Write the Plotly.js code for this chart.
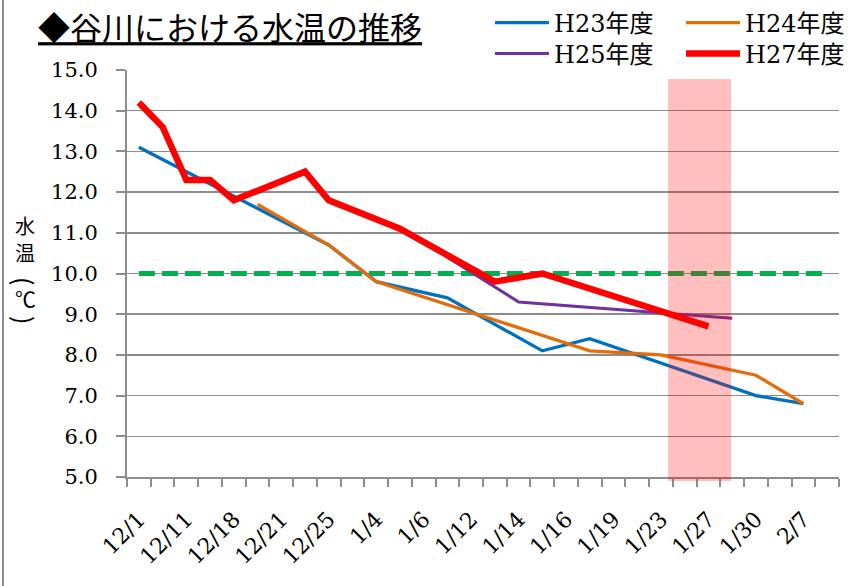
<!DOCTYPE html>
<html><head><meta charset="utf-8">
<script src="https://cdn.plot.ly/plotly-3.0.1.min.js"></script>
<style>html,body{margin:0;padding:0;background:#fff}</style>
</head><body>
<div id="chart" style="width:848px;height:586px"></div>
<script>
// 30 date categories; only every other one is labelled on the axis
const nCat = 30;
const dateLabels = ['12/1','12/11','12/18','12/21','12/25','1/4','1/6','1/12','1/14','1/16','1/19','1/23','1/27','1/30','2/7'];
const labelIdx = [0,2,4,6,8,10,12,14,16,18,20,22,24,26,28];

// water temperature (°C) per category, null = not measured
const h23 = [13.1,null,null,null,null,null,null,null,10.7,null,9.8,null,null,9.4,null,null,null,8.1,null,8.4,null,null,null,null,null,null,7.0,null,6.8,null];
const h24 = [null,null,null,null,null,11.7,null,null,10.7,null,9.8,null,null,null,null,null,null,null,null,8.1,null,null,8.0,null,null,null,7.5,null,6.8,null];
const h25 = [null,null,null,null,null,null,null,null,null,null,null,null,null,10.4,null,null,9.3,null,null,null,null,null,null,null,null,8.9,null,null,null,null];
const h27 = [14.2,13.6,12.3,12.3,11.8,null,null,12.5,11.8,null,null,11.1,null,null,null,9.8,null,10.0,null,null,null,null,null,null,8.7,null,null,null,null,null];
const guide = [10,10,10,10,10,10,10,10,10,10,10,10,10,10,10,10,10,10,10,10,10,10,10,10,10,10,10,10,10,10];

// highlighted period (category positions)
const bandStart = 22.3, bandEnd = 24.95;

const xs = Array.from({length: nCat}, (_, i) => i);
const boundaries = Array.from({length: nCat + 1}, (_, i) => i - 0.5);

const serif = "DejaVu Serif, Noto Sans CJK JP, serif";
const cjk = "Noto Sans CJK JP, sans-serif";
const grid = '#8c8c8c';

const traces = [
  {x: xs, y: guide, xaxis: 'x', yaxis: 'y', mode: 'lines', showlegend: false, hoverinfo: 'skip',
   line: {color: '#00B050', width: 5, dash: '16px,7px'}},
  {x: xs, y: h23, xaxis: 'x2', yaxis: 'y', mode: 'lines', name: 'H23年度', connectgaps: true,
   line: {color: '#0070C0', width: 3.3}, legend: 'legend'},
  {x: xs, y: h24, xaxis: 'x2', yaxis: 'y', mode: 'lines', name: 'H24年度', connectgaps: true,
   line: {color: '#E46C0A', width: 3.3}, legend: 'legend'},
  {x: xs, y: h25, xaxis: 'x2', yaxis: 'y', mode: 'lines', name: 'H25年度', connectgaps: true,
   line: {color: '#7030A0', width: 3}, legend: 'legend2'},
  {x: xs, y: h27, xaxis: 'x2', yaxis: 'y', mode: 'lines', name: 'H27年度', connectgaps: true,
   line: {color: '#FF0000', width: 6.5}, legend: 'legend2'}
];

const legendCommon = {
  orientation: 'h', xanchor: 'left', yanchor: 'middle', bgcolor: 'rgba(0,0,0,0)',
  font: {family: serif, size: 24, color: '#000'}, entrywidth: 122, entrywidthmode: 'pixels',
  itemwidth: 54, tracegroupgap: 0
};

const ytitleY = (py) => (477 - py) / 407;
const ytitleX = (25 - 127) / 712;

const layout = {
  width: 848, height: 586,
  margin: {l: 127, r: 9, t: 70, b: 109, autoexpand: false},
  paper_bgcolor: '#fff', plot_bgcolor: '#fff',
  title: {text: '<u>◆谷川における水温の推移</u>', x: 38/848, xanchor: 'left', xref: 'container',
          y: 1 - 29/586, yanchor: 'middle', yref: 'container',
          font: {family: cjk, size: 32, color: '#000'}},
  xaxis: {range: [-0.5, nCat - 0.5], tickmode: 'array', tickvals: boundaries, showticklabels: false,
          ticks: 'outside', ticklen: 8, tickwidth: 2, tickcolor: grid, showgrid: false, zeroline: false,
          showline: true, linecolor: grid, linewidth: 2, fixedrange: true},
  xaxis2: {range: [-0.5, nCat - 0.5], overlaying: 'x', anchor: 'y', side: 'bottom',
           tickmode: 'array', tickvals: labelIdx, ticktext: dateLabels, ticks: '', tickangle: -45,
           ticklabelstandoff: 24, showgrid: false, zeroline: false, showline: false,
           tickfont: {family: serif, size: 22, color: '#000'}},
  yaxis: {range: [5, 15], dtick: 1, tick0: 5, tickformat: '.1f', ticks: 'outside', ticklen: 9,
          tickwidth: 2, tickcolor: grid, showgrid: true, gridcolor: grid, gridwidth: 1.5,
          showline: true, linecolor: grid, linewidth: 2, zeroline: false, ticklabelstandoff: 14,
          tickfont: {family: serif, size: 21, color: '#000'}},
  legend: Object.assign({x: (490 - 127) / 712, y: 1 + (70 - 23) / 407}, legendCommon),
  legend2: Object.assign({x: (490 - 127) / 712, y: 1 + (70 - 54) / 407}, legendCommon),
  annotations: [
    {text: '水', y: ytitleY(225), textangle: 0, size: 20},
    {text: '温', y: ytitleY(252), textangle: 0, size: 20},
    {text: '(', y: ytitleY(281), textangle: 90, size: 25},
    {text: '℃', y: ytitleY(298), textangle: 0, size: 21},
    {text: ')', y: ytitleY(320), textangle: 90, size: 25}
  ].map(a => ({xref: 'paper', yref: 'paper', x: ytitleX, xanchor: 'center', yanchor: 'middle',
     showarrow: false, text: a.text, y: a.y, textangle: a.textangle,
     font: {family: cjk, size: a.size, color: '#000'}})),
  shapes: [
    {type: 'rect', layer: 'above', xref: 'x', yref: 'paper', x0: bandStart, x1: bandEnd,
     y0: -4 / 407, y1: (477 - 79) / 407, fillcolor: 'rgba(255,0,0,0.25)', line: {width: 0}},
    {type: 'line', xref: 'paper', yref: 'paper', x0: (3 - 127) / 712, x1: (3 - 127) / 712,
     y0: -109 / 407, y1: 1 + 70 / 407, line: {color: '#8c8c8c', width: 2}}
  ],
  showlegend: true
};

Plotly.newPlot('chart', traces, layout, {displayModeBar: false, staticPlot: true});
</script>
</body></html>
